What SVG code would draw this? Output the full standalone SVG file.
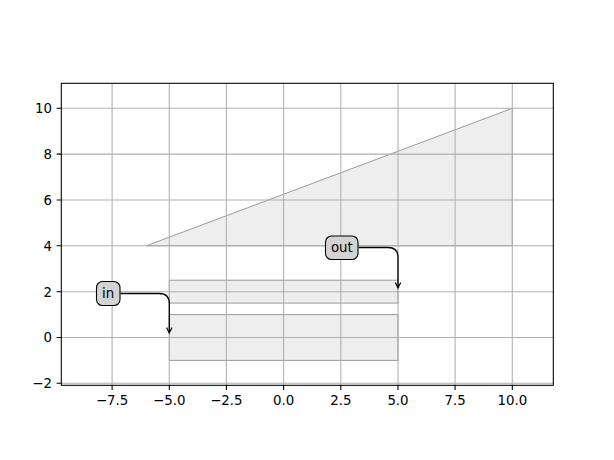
<svg xmlns="http://www.w3.org/2000/svg" width="614" height="460" viewBox="0 0 614 460">
<style>
.patch{fill:#eeeeee;stroke:#999999;stroke-width:1}
.grid{stroke:#b0b0b0;stroke-width:1.07;fill:none}
.spine{stroke:#000;stroke-width:1.07;fill:none}
.tick{stroke:#000;stroke-width:1.07}
.lbl{font-family:"DejaVu Sans",sans-serif;font-size:13.33px;fill:#000}
.box{fill:#d3d3d3;stroke:#000;stroke-width:1.1}
.conn{fill:none;stroke:#000;stroke-width:1.3}
</style>
<rect width="614" height="460" fill="#fff"/>
<g id="patches">
<polygon id="triangle" class="patch" points="146.4,245.8 512.3,108.3 512.3,245.8"/>
<rect id="rect-top" class="patch" x="169.3" y="280.2" width="228.7" height="22.9"/>
<rect id="rect-bottom" class="patch" x="169.3" y="314.6" width="228.7" height="45.8"/>
</g>
<g id="grid">
<path class="grid" d="M112.1,83.3V385.3M169.3,83.3V385.3M226.4,83.3V385.3M283.6,83.3V385.3M340.8,83.3V385.3M398,83.3V385.3M455.1,83.3V385.3M512.3,83.3V385.3"/>
<path class="grid" d="M61.3,108.3H553.3M61.3,154.1H553.3M61.3,200H553.3M61.3,245.8H553.3M61.3,291.7H553.3M61.3,337.5H553.3M61.3,383.3H553.3"/>
</g>
<g id="axes">
<rect class="spine" x="61.3" y="83.3" width="492" height="302"/>
<path class="tick" d="M112.1,385.3v4.7M169.3,385.3v4.7M226.4,385.3v4.7M283.6,385.3v4.7M340.8,385.3v4.7M398,385.3v4.7M455.1,385.3v4.7M512.3,385.3v4.7"/>
<path class="tick" d="M61.3,108.3h-4.7M61.3,154.1h-4.7M61.3,200h-4.7M61.3,245.8h-4.7M61.3,291.7h-4.7M61.3,337.5h-4.7M61.3,383.3h-4.7"/>
<g class="lbl" text-anchor="middle">
<text x="112.1" y="405">−7.5</text>
<text x="169.3" y="405">−5.0</text>
<text x="226.4" y="405">−2.5</text>
<text x="283.6" y="405">0.0</text>
<text x="340.8" y="405">2.5</text>
<text x="398" y="405">5.0</text>
<text x="455.1" y="405">7.5</text>
<text x="512.3" y="405">10.0</text>
</g>
<g class="lbl" text-anchor="end">
<text x="52" y="113.1">10</text>
<text x="52" y="158.9">8</text>
<text x="52" y="204.8">6</text>
<text x="52" y="250.6">4</text>
<text x="52" y="296.5">2</text>
<text x="52" y="342.3">0</text>
<text x="52" y="388.1">−2</text>
</g>
</g>
<defs>
<marker id="ah" markerWidth="10" markerHeight="10" refX="6" refY="3.5" orient="auto" markerUnits="userSpaceOnUse">
<path d="M0.5,0.8L6,3.5L0.5,6.2" fill="none" stroke="#000" stroke-width="1.2"/>
</marker>
</defs>
<g id="connectors">
<path class="conn" d="M120.5,293.5H159.3Q169.3,293.5 169.3,303.5V333" marker-end="url(#ah)"/>
<path class="conn" d="M358.5,247.5H388Q398,247.5 398,257.5V288" marker-end="url(#ah)"/>
</g>
<g id="in">
<rect class="box" x="96.5" y="281.5" width="23.5" height="24" rx="6"/>
<text class="lbl" x="108.2" y="298" text-anchor="middle">in</text>
</g>
<g id="out">
<rect class="box" x="325.5" y="236" width="32.5" height="23.5" rx="6"/>
<text class="lbl" x="341.8" y="252" text-anchor="middle">out</text>
</g>
</svg>
